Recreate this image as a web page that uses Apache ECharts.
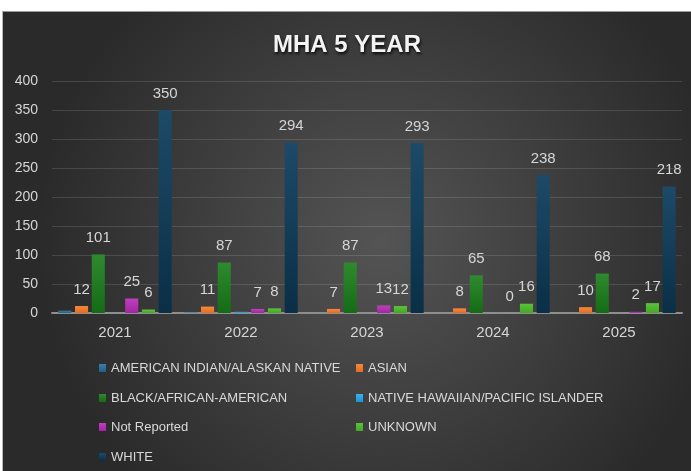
<!DOCTYPE html>
<html>
<head>
<meta charset="utf-8">
<script src="https://cdn.jsdelivr.net/npm/echarts@6/dist/echarts.min.js"></script>
<style>
html,body{margin:0;padding:0;background:#fff;width:691px;height:471px;overflow:hidden;}
#wrap{position:absolute;left:2px;top:11px;width:688px;height:459px;border-left:1px solid #b8b8b8;border-top:1px solid #9a9a9a;}
#chart{width:688px;height:459px;}
</style>
</head>
<body>
<div id="wrap"><div id="chart"></div></div>
<script>
var years = ['2021', '2022', '2023', '2024', '2025'];
var americanIndian = [4, 1, 0, 0, 0];
var asian = [12, 11, 7, 8, 10];
var black = [101, 87, 87, 65, 68];
var nativeHawaiian = [0, 2, 0, 0, 0];
var notReported = [25, 7, 13, 0, 2];
var unknown = [6, 8, 12, 16, 17];
var white = [350, 294, 293, 238, 218];
var yTicks = [0, 50, 100, 150, 200, 250, 300, 350, 400];

var seriesNames = ['AMERICAN INDIAN/ALASKAN NATIVE', 'ASIAN', 'BLACK/AFRICAN-AMERICAN',
  'NATIVE HAWAIIAN/PACIFIC ISLANDER', 'Not Reported', 'UNKNOWN', 'WHITE'];
var seriesData = [americanIndian, asian, black, nativeHawaiian, notReported, unknown, white];
var showLabel = [false, true, true, false, true, true, true];
var colTop = ['#3a7fa8', '#f58a3c', '#2f8a2f', '#3ab2ea', '#c040c0', '#5cc23c', '#1d4a68'];
var colBot = ['#215f88', '#e86a1e', '#146c14', '#1b95d2', '#a325a3', '#43a823', '#0a2f47'];

var font = 'Liberation Sans, Arial, sans-serif';
var series = seriesNames.map(function (n, i) {
  return {
    name: n, type: 'bar', data: seriesData[i],
    barGap: '28%', barCategoryGap: '10%',
    itemStyle: { color: new echarts.graphic.LinearGradient(0, 0, 0, 1, [
      { offset: 0, color: colTop[i] }, { offset: 1, color: colBot[i] }]) },
    label: { show: showLabel[i], position: 'top', distance: 9, color: '#d6d6d6',
      fontSize: 15, fontFamily: font }
  };
});

var legendPos = [[96, 356], [353, 356], [96, 386], [353, 386], [96, 415], [353, 415], [96, 445]];
var legends = seriesNames.map(function (n, i) {
  return {
    data: [n], left: legendPos[i][0], top: legendPos[i][1] - 7, padding: 0,
    icon: 'rect', itemWidth: 7, itemHeight: 8, selectedMode: false,
    textStyle: { color: '#d9d9d9', fontSize: 13, lineHeight: 14, fontFamily: font }
  };
});

var chart = echarts.init(document.getElementById('chart'));
chart.setOption({
  backgroundColor: new echarts.graphic.RadialGradient(0.55, 0.5, 0.75, [
    { offset: 0, color: '#545454' }, { offset: 1, color: '#2a2a2a' }]),
  animation: false,
  title: {
    text: 'MHA 5 YEAR', left: 'center', top: 16,
    textStyle: { color: '#f4f4f4', fontSize: 24, fontWeight: 'bold', fontFamily: font,
      textShadowColor: 'rgba(0,0,0,0.85)', textShadowBlur: 3, textShadowOffsetX: 1, textShadowOffsetY: 2 }
  },
  legend: legends,
  grid: { left: 49, right: 9, top: 69, bottom: 158 },
  xAxis: {
    type: 'category', data: years,
    axisLine: { lineStyle: { color: '#8e8e8e', width: 2 } },
    axisTick: { show: false },
    axisLabel: { color: '#d6d6d6', fontSize: 15, margin: 12, fontFamily: font }
  },
  yAxis: {
    type: 'value', min: yTicks[0], max: yTicks[yTicks.length - 1], interval: yTicks[1] - yTicks[0],
    axisLine: { show: false }, axisTick: { show: false },
    splitLine: { lineStyle: { color: 'rgba(255,255,255,0.13)', width: 1 } },
    axisLabel: { color: '#d6d6d6', fontSize: 14, margin: 14, fontFamily: font }
  },
  series: series
});
</script>
</body>
</html>
